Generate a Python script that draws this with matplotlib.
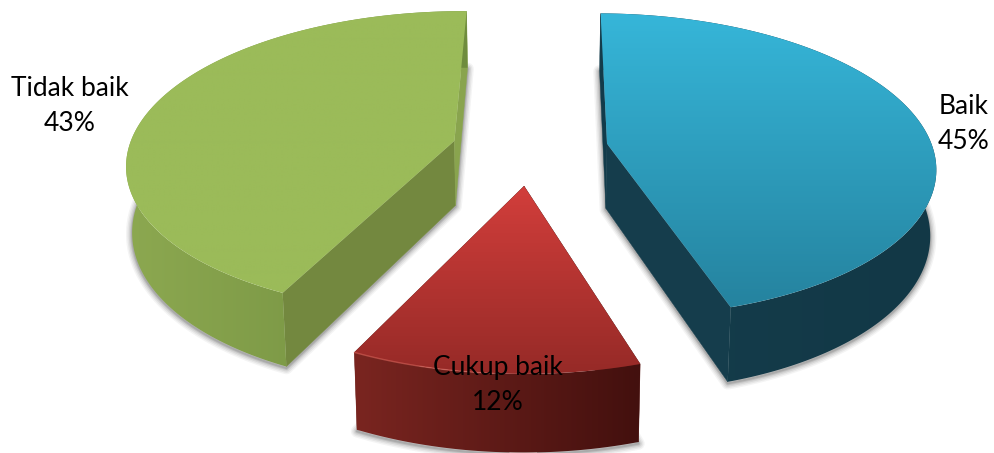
import numpy as np
import matplotlib
matplotlib.use("Agg")
import matplotlib.pyplot as plt
from matplotlib.patches import Polygon
from matplotlib.colors import to_rgb

labels = ["Baik", "Cukup baik", "Tidak baik"]
values = [45, 12, 43]
top_a = ["#36B6D9", "#D23E3B", "#9BBB59"]
top_b = ["#25839F", "#962A27", "#9BBB59"]
rim_a = ["#153D4C", "#7A2520", "#8CA850"]
rim_b = ["#123846", "#43100E", "#6F8C3E"]
cut_start = ["#123B4A", "#5A1A17", "#73883F"]
cut_end = ["#153D4C", "#6A1F1B", "#89A44E"]
edge_light = [None, "#E06A60", None]
label_xy = [(964, 124), (498, 385), (70, 106)]

CX, CY, RX, RY, PERSP, DEPTH = 530.0, 149.0, 326.0, 150.0, 0.14, 65.0
START, EXPLODE = 0.6, 0.24

fig = plt.figure(figsize=(9.94, 4.53), dpi=100)
ax = fig.add_axes([0, 0, 1, 1])
ax.set_xlim(0, 994)
ax.set_ylim(453, 0)
ax.axis("off")


def project(x, v, z=0.0):
    s = 1.0 / (1.0 + PERSP * v)
    X = CX + RX * x * s
    Y = CY - RY * v * s
    if z:
        X = CX + (X - CX) * (1 - 0.015 * z)
        Y = Y + DEPTH * s * z
    return np.column_stack([X, Y])


def grad_fill(poly, c0, c1, horizontal=False, zorder=2):
    patch = Polygon(poly, closed=True, fc="none", ec="none", zorder=zorder)
    ax.add_patch(patch)
    t = np.linspace(0, 1, 128)
    c0, c1 = np.array(to_rgb(c0)), np.array(to_rgb(c1))
    g = c0[None, :] * (1 - t[:, None]) + c1[None, :] * t[:, None]
    img = g[None, :, :] if horizontal else g[:, None, :]
    x0, y0 = poly.min(0)
    x1, y1 = poly.max(0)
    im = ax.imshow(img, extent=(x0, x1, y1, y0), aspect="auto", zorder=zorder,
                   interpolation="bilinear")
    im.set_clip_path(patch)


total = sum(values)
angle = START
for i, val in enumerate(values):
    sweep = 360.0 * val / total
    a0, a1 = angle, angle + sweep
    angle = a1
    mid = np.radians((a0 + a1) / 2)
    ox, ov = EXPLODE * np.sin(mid), EXPLODE * np.cos(mid)
    th = np.radians(np.linspace(a0, a1, 160))
    xs, vs = ox + np.sin(th), ov + np.cos(th)

    apex_t = project(np.array([ox]), np.array([ov]))
    apex_b = project(np.array([ox]), np.array([ov]), 1.0)
    arc_t = project(xs, vs)
    arc_b = project(xs, vs, 1.0)

    # soft shadow round the lower cap only
    arc_s = project(xs, vs, 1.02)
    apex_s = project(np.array([ox]), np.array([ov]), 1.02)
    shadow = np.vstack([apex_s, arc_s])
    for lw, alpha in [(9, .05), (7, .07), (5, .09), (3, .12), (1.5, .15)]:
        ax.add_patch(Polygon(shadow, closed=True, fc="none", ec="#303030",
                             lw=lw, alpha=alpha, zorder=1, joinstyle="round"))

    # side faces, then the top face over them
    face0 = np.vstack([apex_t, arc_t[:1], arc_b[:1], apex_b])
    face1 = np.vstack([apex_t, arc_t[-1:], arc_b[-1:], apex_b])
    ax.add_patch(Polygon(face0, closed=True, fc=cut_start[i], ec=cut_start[i], lw=.3, zorder=2))
    ax.add_patch(Polygon(face1, closed=True, fc=cut_end[i], ec=cut_end[i], lw=.3, zorder=2))
    rim = np.vstack([arc_t, arc_b[::-1]])
    grad_fill(rim, rim_a[i], rim_b[i], horizontal=True, zorder=3)
    top = np.vstack([apex_t, arc_t])
    grad_fill(top, top_a[i], top_b[i], zorder=4)
    if edge_light[i]:
        n = len(arc_t) // 2
        ax.plot(arc_t[n:, 0], arc_t[n:, 1], color=edge_light[i], lw=1.0, alpha=.55,
                zorder=5, solid_capstyle="round")

    ax.text(label_xy[i][0], label_xy[i][1], f"{labels[i]}\n{val}%", ha="center", va="center",
            family="Lato", fontsize=19, color="black", linespacing=1.52, zorder=6)

ax.set_xlim(0, 994)
ax.set_ylim(453, 0)
fig.savefig("out.png", dpi=100)
